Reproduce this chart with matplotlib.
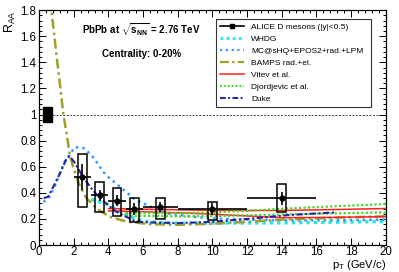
import numpy as np
import matplotlib
matplotlib.use('Agg')
import matplotlib.pyplot as plt
from matplotlib.patches import Rectangle
from matplotlib.lines import Line2D
from matplotlib.ticker import MultipleLocator

plt.rcParams['font.family'] = ['Liberation Sans', 'DejaVu Sans']
plt.rcParams['mathtext.fontset'] = 'custom'
plt.rcParams['mathtext.rm'] = 'Liberation Sans'
plt.rcParams['mathtext.it'] = 'Liberation Sans'
plt.rcParams['mathtext.bf'] = 'Liberation Sans:bold'

# ALICE D mesons, 0-20%
pt_d = [2.5, 3.5, 4.5, 5.5, 7, 10, 14]
pt_lo = [2, 3, 4, 5, 6, 8, 12]
pt_hi = [3, 4, 5, 6, 8, 12, 16]
raa_d = [0.52, 0.38, 0.34, 0.275, 0.29, 0.275, 0.357]
stat_d = [0.10, 0.045, 0.04, 0.045, 0.04, 0.045, 0.05]
syst_lo = [0.29, 0.25, 0.225, 0.175, 0.20, 0.195, 0.255]
syst_hi = [0.70, 0.485, 0.44, 0.36, 0.36, 0.327, 0.465]
norm_unc = 0.055

# model curves
whdg_pt = [3.0, 3.5, 4.0, 4.5, 5.0, 5.5, 6.0, 7.0, 8.0, 10, 14, 20]
whdg = [0.35, 0.33, 0.31, 0.27, 0.235, 0.205, 0.185, 0.172, 0.168, 0.168, 0.17, 0.18]

mcshq_pt = [0.25, 0.6, 0.9, 1.48, 2.06, 2.63, 3.2, 3.7, 4.0, 5.0, 5.5, 6.0, 6.85, 7.5, 9, 10, 12, 14, 17, 20]
mcshq = [0.33, 0.37, 0.45, 0.64, 0.75, 0.74, 0.66, 0.56, 0.52, 0.41, 0.35, 0.32, 0.27, 0.24, 0.215, 0.205, 0.195, 0.19, 0.19, 0.195]

bamps_pt = [0.5, 0.7, 1.0, 1.2, 1.4, 1.58, 1.77, 1.96, 2.35, 2.73, 3.31, 4.07, 5.04, 6.4, 8, 10, 12, 14, 17, 20]
bamps = [2.05, 1.81, 1.46, 1.23, 1.0, 0.86, 0.69, 0.6, 0.45, 0.36, 0.28, 0.217, 0.18, 0.16, 0.155, 0.163, 0.178, 0.195, 0.21, 0.22]

vitev_pt = [4, 6, 8, 10, 12, 14, 17, 20]
vitev_up = [0.28, 0.275, 0.27, 0.267, 0.265, 0.265, 0.272, 0.28]
vitev_lo = [0.262, 0.255, 0.247, 0.237, 0.223, 0.21, 0.212, 0.218]

djor_pt = [5, 8, 10, 12, 14, 17, 20]
djor_up = [0.245, 0.245, 0.25, 0.262, 0.278, 0.297, 0.314]
djor_lo = [0.225, 0.22, 0.222, 0.228, 0.235, 0.243, 0.25]

duke_pt = [0.27, 0.52, 1.1, 1.58, 1.77, 2.06, 2.54, 3.1, 3.5, 4.46, 5.42, 6, 8, 10, 12, 14.4, 17.1]
duke = [0.36, 0.37, 0.52, 0.66, 0.68, 0.63, 0.52, 0.42, 0.36, 0.255, 0.19, 0.175, 0.168, 0.178, 0.2, 0.23, 0.25]

c_whdg = '#22E5F0'
c_mc = '#3399FF'
c_bamps = '#9E9E2A'
c_vitev = '#FF2020'
c_djor = '#44D62C'
c_duke = '#2424A8'

fig = plt.figure(figsize=(3.99, 2.72), dpi=100)
ax = fig.add_axes([0.098, 0.099, 0.869, 0.864])

ls_mc = (0, (1, 1.6))
ls_bamps = (0, (4, 1.5, 1, 1.5))
ls_duke = (0, (3, 1.2, 1, 1.2))

ax.axhline(1.0, color='#444444', lw=0.7, ls=(0, (2, 1.5)), zorder=1)

ax.plot(whdg_pt, whdg, color=c_whdg, lw=2.4, ls=(0, (1, 1.2)), zorder=3)
ax.plot(mcshq_pt, mcshq, color=c_mc, lw=1.8, ls=ls_mc, zorder=3)
ax.plot(bamps_pt, bamps, color=c_bamps, lw=1.8, ls=ls_bamps, zorder=3)
ax.plot(vitev_pt, vitev_up, color=c_vitev, lw=1.1, zorder=3)
ax.plot(vitev_pt, vitev_lo, color=c_vitev, lw=1.1, zorder=3)
ax.plot(djor_pt, djor_up, color=c_djor, lw=1.6, ls=(0, (1, 1)), zorder=3)
ax.plot(djor_pt, djor_lo, color=c_djor, lw=1.6, ls=(0, (1, 1)), zorder=3)
ax.plot(duke_pt, duke, color=c_duke, lw=1.5, ls=ls_duke, zorder=3)

# systematic boxes
for x, lo, hi in zip(pt_d, syst_lo, syst_hi):
    ax.add_patch(Rectangle((x - 0.25, lo), 0.5, hi - lo, fill=False,
                           edgecolor='black', lw=1.1, zorder=4))

xerr = [np.array(pt_d) - np.array(pt_lo), np.array(pt_hi) - np.array(pt_d)]
ax.errorbar(pt_d, raa_d, xerr=xerr, yerr=stat_d, fmt='o', color='black',
            ms=3.5, elinewidth=1.2, capsize=0, zorder=5)

# normalisation uncertainty
ax.add_patch(Rectangle((0.25, 1 - norm_unc), 0.5, 2 * norm_unc,
                       facecolor='black', edgecolor='black', zorder=4))

ax.set_xlim(0, 20)
ax.set_ylim(0, 1.8)
ax.xaxis.set_major_locator(MultipleLocator(2))
ax.xaxis.set_minor_locator(MultipleLocator(0.4))
ax.yaxis.set_major_locator(MultipleLocator(0.2))
ax.yaxis.set_minor_locator(MultipleLocator(0.04))
ax.set_yticks([0, 0.2, 0.4, 0.6, 0.8, 1, 1.2, 1.4, 1.6, 1.8])
ax.set_yticklabels(['0', '0.2', '0.4', '0.6', '0.8', '1', '1.2', '1.4', '1.6', '1.8'])
ax.tick_params(which='both', direction='in', top=True, right=True, labelsize=8.3,
               width=0.7, pad=2)
ax.tick_params(axis='x', pad=0.5)
ax.tick_params(which='major', length=5)
ax.tick_params(which='minor', length=2.5)
for s in ax.spines.values():
    s.set_linewidth(0.9)

ax.text(-0.103, 1.0, r'R$_{\rm AA}$', transform=ax.transAxes, rotation=90,
        ha='left', va='top', fontsize=9)
ax.text(1.0, -0.056, r'p$_{\rm T}$ (GeV/c)', transform=ax.transAxes,
        ha='right', va='top', fontsize=8)

ax.text(0.295, 0.915, r'PbPb at $\sqrt{\mathbf{s}_{\mathbf{NN}}}$ = 2.76 TeV',
        transform=ax.transAxes, ha='center', va='center', fontsize=7,
        fontweight='bold')
ax.text(0.295, 0.815, 'Centrality: 0-20%', transform=ax.transAxes,
        ha='center', va='center', fontsize=7, fontweight='bold')

handles = [
    Line2D([], [], color='black', lw=1.2, marker='s', ms=3.5),
    Line2D([], [], color=c_whdg, lw=2.0, ls=(0, (1, 1.2))),
    Line2D([], [], color=c_mc, lw=1.6, ls=ls_mc),
    Line2D([], [], color=c_bamps, lw=1.6, ls=ls_bamps),
    Line2D([], [], color=c_vitev, lw=1.1),
    Line2D([], [], color=c_djor, lw=1.4, ls=(0, (1, 1))),
    Line2D([], [], color=c_duke, lw=1.4, ls=ls_duke),
]
labels = ['ALICE D mesons (|y|<0.5)', 'WHDG', 'MC@sHQ+EPOS2+rad.+LPM',
          'BAMPS rad.+el.', 'Vitev et al.', 'Djordjevic et al.', 'Duke']
leg = ax.legend(handles, labels, loc='upper left', bbox_to_anchor=(0.51, 0.962, 0.447, 0.0),
                mode='expand', fontsize=6, frameon=True, fancybox=False,
                handlelength=2.9, handletextpad=0.8, labelspacing=0.5,
                borderpad=0.5, borderaxespad=0)
leg.get_frame().set_edgecolor('black')
leg.get_frame().set_linewidth(0.8)

fig.savefig('out.png', dpi=100)
